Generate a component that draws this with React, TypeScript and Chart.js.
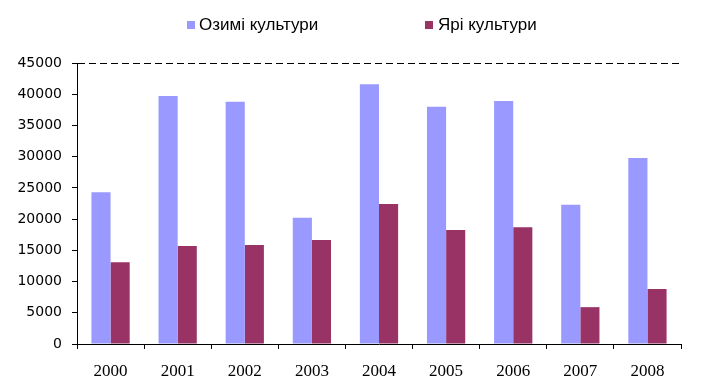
import React, { useEffect, useRef } from "react";
import { Chart, registerables } from "chart.js";

Chart.register(...registerables);

const categories = ["2000", "2001", "2002", "2003", "2004", "2005", "2006", "2007", "2008"];
const winterCrops = [24300, 39700, 38800, 20200, 41600, 38000, 38900, 22300, 29800];
const springCrops = [13100, 15700, 15850, 16650, 22400, 18250, 18700, 5900, 8800];
const seriesNames = ["Озимі культури", "Ярі культури"];
const seriesColors = ["#9999FF", "#993366"];
const yMax = 45000;
const yStep = 5000;

export default function App() {
  const canvasRef = useRef<HTMLCanvasElement | null>(null);

  useEffect(() => {
    document.body.style.margin = "0";
    const canvas = canvasRef.current;
    if (!canvas) return;
    const chart = new Chart(canvas, {
      type: "bar",
      data: {
        labels: categories,
        datasets: [
          {
            label: seriesNames[0],
            data: winterCrops,
            backgroundColor: seriesColors[0],
            categoryPercentage: 0.57,
            barPercentage: 1,
          },
          {
            label: seriesNames[1],
            data: springCrops,
            backgroundColor: seriesColors[1],
            categoryPercentage: 0.57,
            barPercentage: 1,
          },
        ],
      },
      options: {
        animation: false,
        responsive: false,
        layout: { padding: { left: 0, right: 22, top: 63, bottom: 0 } },
        plugins: {
          legend: { display: false },
          tooltip: { enabled: false },
        },
        scales: {
          x: {
            afterFit: (s: any) => {
              s.height = 48;
            },
            border: { display: true, color: "#000", width: 1 },
            grid: {
              offset: true,
              drawOnChartArea: false,
              drawTicks: true,
              tickLength: 5,
              tickColor: "#000",
              color: "#000",
            },
            ticks: {
              color: "#000",
              padding: 12,
              font: { family: "'Liberation Serif', 'Times New Roman', serif", size: 17 },
            },
          },
          y: {
            min: 0,
            max: yMax,
            afterFit: (s: any) => {
              s.width = 77;
            },
            border: { display: true, color: "#000", width: 1, dash: [7, 4] },
            grid: {
              drawOnChartArea: true,
              drawTicks: true,
              tickLength: 5,
              tickColor: "#000",
              tickBorderDash: [],
              color: (ctx: any) => (ctx.tick && ctx.tick.value === yMax ? "#000" : "rgba(0,0,0,0)"),
            },
            ticks: {
              stepSize: yStep,
              color: "#000",
              padding: 10,
              callback: (v: any) => String(v),
              font: { family: "'DejaVu Sans', sans-serif", size: 14 },
            },
          },
        },
      },
    });
    return () => chart.destroy();
  }, []);

  const legendFont = "'Liberation Sans', Arial, sans-serif";
  const textStyle: React.CSSProperties = {
    position: "absolute",
    top: 15,
    lineHeight: "20px",
    fontSize: 17,
    fontFamily: legendFont,
    color: "#000",
    whiteSpace: "nowrap",
  };
  return (
    <div style={{ position: "relative", width: 703, height: 392, background: "#fff" }}>
      <canvas ref={canvasRef} width={703} height={392} style={{ display: "block" }} />
      <div style={{ position: "absolute", left: 187, top: 21, width: 8, height: 8, background: seriesColors[0] }} />
      <div style={{ ...textStyle, left: 199 }}>{seriesNames[0]}</div>
      <div style={{ position: "absolute", left: 425, top: 21, width: 8, height: 8, background: seriesColors[1] }} />
      <div style={{ ...textStyle, left: 438 }}>{seriesNames[1]}</div>
    </div>
  );
}
